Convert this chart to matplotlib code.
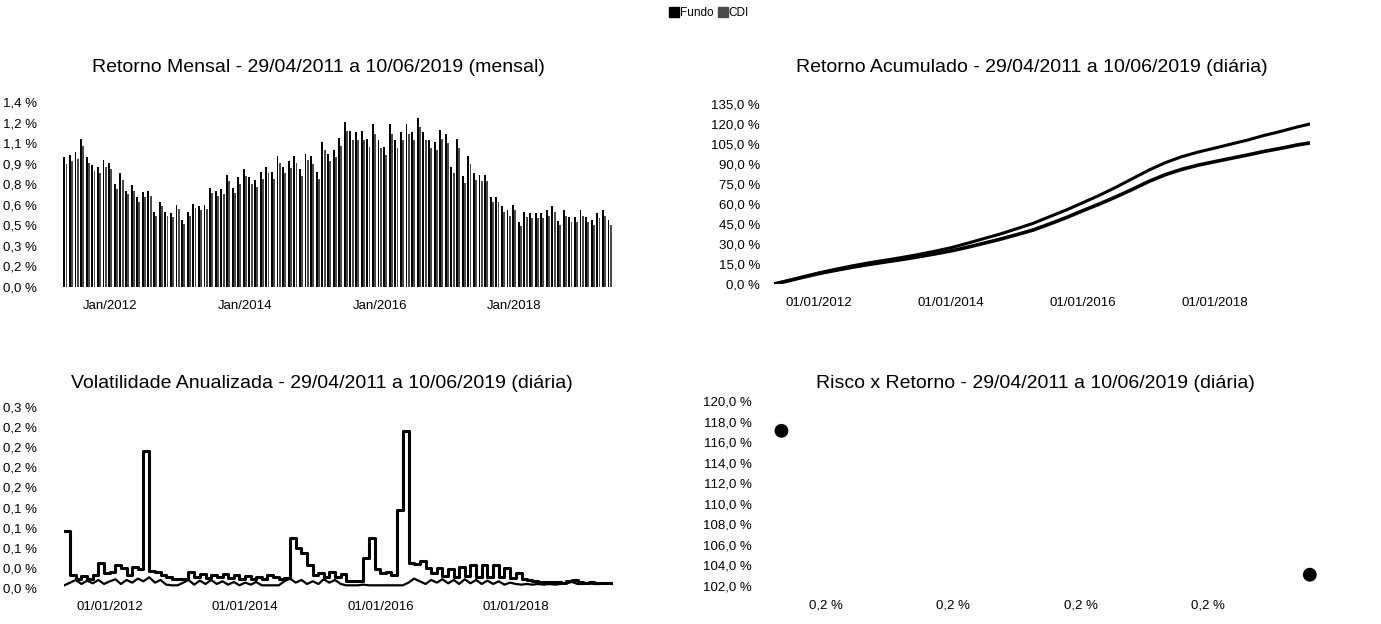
import matplotlib
matplotlib.use("Agg")
import matplotlib.pyplot as plt
import matplotlib.dates as mdates
from matplotlib.lines import Line2D
from matplotlib.ticker import FuncFormatter
import numpy as np
import pandas as pd

plt.rcParams["font.family"] = ["Liberation Sans", "DejaVu Sans"]

# ---------------------------------------------------------------------------
# Data
# ---------------------------------------------------------------------------

months = pd.date_range("2011-05-01", "2019-06-01", freq="MS")  # 98 months

ret_fundo = [
    0.98, 1.00, 1.02, 1.12, 0.98, 0.92, 0.91, 0.96,
    0.94, 0.78, 0.86, 0.73, 0.77, 0.68, 0.72, 0.73, 0.57, 0.64, 0.57, 0.56,
    0.62, 0.51, 0.57, 0.63, 0.61, 0.62, 0.75, 0.73, 0.74, 0.85, 0.75, 0.83,
    0.89, 0.83, 0.81, 0.87, 0.91, 0.87, 0.99, 0.91, 0.95, 0.99, 0.89, 1.01,
    0.99, 0.87, 1.10, 1.01, 1.04, 1.13, 1.25, 1.18, 1.17, 1.18, 1.12, 1.23,
    1.11, 1.06, 1.23, 1.11, 1.17, 1.23, 1.17, 1.28, 1.17, 1.11, 1.10, 1.19,
    1.16, 0.91, 1.12, 0.84, 0.99, 0.86, 0.85, 0.85, 0.68, 0.68, 0.61, 0.58,
    0.62, 0.49, 0.57, 0.56, 0.56, 0.56, 0.58, 0.61, 0.50, 0.58, 0.53, 0.53,
    0.58, 0.53, 0.51, 0.56, 0.58, 0.51,
]
ret_cdi = [
    0.93, 0.95, 0.97, 1.07, 0.94, 0.88, 0.86, 0.91,
    0.89, 0.74, 0.81, 0.70, 0.73, 0.64, 0.68, 0.69, 0.54, 0.61, 0.54, 0.53,
    0.59, 0.48, 0.54, 0.60, 0.58, 0.59, 0.71, 0.69, 0.70, 0.80, 0.71, 0.78,
    0.84, 0.78, 0.76, 0.82, 0.86, 0.82, 0.94, 0.86, 0.90, 0.94, 0.84, 0.96,
    0.93, 0.82, 1.04, 0.95, 0.98, 1.07, 1.18, 1.11, 1.11, 1.11, 1.06, 1.16,
    1.05, 1.00, 1.16, 1.05, 1.11, 1.16, 1.11, 1.21, 1.11, 1.05, 1.04, 1.12,
    1.09, 0.86, 1.05, 0.79, 0.93, 0.81, 0.80, 0.80, 0.64, 0.64, 0.57, 0.54,
    0.58, 0.46, 0.53, 0.52, 0.52, 0.52, 0.54, 0.57, 0.47, 0.54, 0.49, 0.49,
    0.54, 0.49, 0.47, 0.52, 0.54, 0.47,
]
month_tick_labels = ["Jan/2012", "Jan/2014", "Jan/2016", "Jan/2018"]

acc_dates = pd.to_datetime([
    "2011-04-29", "2011-07-01", "2011-10-01",
    "2012-01-01", "2012-04-01", "2012-07-01", "2012-10-01",
    "2013-01-01", "2013-04-01", "2013-07-01", "2013-10-01",
    "2014-01-01", "2014-04-01", "2014-07-01", "2014-10-01",
    "2015-01-01", "2015-04-01", "2015-07-01", "2015-10-01",
    "2016-01-01", "2016-04-01", "2016-07-01", "2016-10-01",
    "2017-01-01", "2017-04-01", "2017-07-01", "2017-10-01",
    "2018-01-01", "2018-04-01", "2018-07-01", "2018-10-01",
    "2019-01-01", "2019-04-01", "2019-06-10",
])
acc_fundo = [
    0.0, 2.0, 5.2,
    8.3, 11.0, 13.5, 15.8,
    17.8, 19.8, 22.0, 24.5,
    27.2, 30.5, 34.0, 37.5,
    41.5, 45.5, 50.5, 55.5,
    61.0, 66.5, 72.5, 79.0,
    85.5, 91.0, 95.5, 99.0,
    102.0, 105.0, 108.0, 111.5,
    114.5, 117.8, 120.0,
]
acc_cdi = [
    0.0, 1.9, 4.9,
    7.8, 10.2, 12.5, 14.6,
    16.5, 18.3, 20.3, 22.5,
    24.8, 27.5, 30.5, 33.6,
    37.0, 40.5, 45.0, 49.8,
    55.0, 60.0, 65.3, 71.0,
    77.0, 82.0, 86.0, 89.2,
    91.8, 94.3, 96.8, 99.5,
    101.8, 104.3, 105.8,
]

vol_fundo = [
    0.085, 0.020, 0.014, 0.018, 0.014, 0.020, 0.037, 0.022,
    0.024, 0.034, 0.030, 0.019, 0.031, 0.028, 0.204, 0.026, 0.024, 0.019, 0.017, 0.014,
    0.014, 0.013, 0.024, 0.016, 0.021, 0.015, 0.020, 0.016, 0.021, 0.015, 0.019, 0.014,
    0.018, 0.014, 0.016, 0.013, 0.019, 0.016, 0.014, 0.015, 0.074, 0.060, 0.052, 0.035,
    0.019, 0.022, 0.016, 0.024, 0.017, 0.021, 0.011, 0.011, 0.011, 0.045, 0.074, 0.028,
    0.022, 0.024, 0.020, 0.116, 0.234, 0.038, 0.036, 0.040, 0.030, 0.022, 0.030, 0.018,
    0.028, 0.016, 0.032, 0.018, 0.034, 0.016, 0.035, 0.017, 0.034, 0.016, 0.030, 0.015,
    0.022, 0.013, 0.012, 0.010, 0.009, 0.009, 0.009, 0.009, 0.008, 0.010, 0.012, 0.009,
    0.008, 0.009, 0.008, 0.008, 0.008, 0.008,
]
vol_cdi = [
    0.004, 0.008, 0.012, 0.006, 0.011, 0.007, 0.012, 0.006,
    0.010, 0.013, 0.006, 0.012, 0.008, 0.014, 0.010, 0.016, 0.008, 0.012, 0.005, 0.004,
    0.004, 0.008, 0.012, 0.005, 0.011, 0.006, 0.012, 0.006, 0.010, 0.005, 0.009, 0.004,
    0.008, 0.005, 0.009, 0.004, 0.004, 0.004, 0.004, 0.010, 0.014, 0.008, 0.012, 0.006,
    0.010, 0.006, 0.013, 0.008, 0.012, 0.006, 0.004, 0.004, 0.004, 0.005, 0.004, 0.004,
    0.004, 0.004, 0.004, 0.004, 0.004, 0.008, 0.014, 0.010, 0.006, 0.012, 0.008, 0.013,
    0.007, 0.012, 0.006, 0.013, 0.007, 0.012, 0.006, 0.011, 0.006, 0.010, 0.005, 0.008,
    0.006, 0.005, 0.006, 0.005, 0.006, 0.005, 0.006, 0.005, 0.006, 0.007, 0.009, 0.006,
    0.006, 0.007, 0.006, 0.006, 0.007, 0.006,
]

risk = [0.1953, 0.2036]      # Fundo, CDI (vol. anualizada, %)
retorno = [117.1, 103.1]     # Fundo, CDI (retorno acumulado, %)

date_ticks = pd.to_datetime(["2012-01-01", "2014-01-01", "2016-01-01", "2018-01-01"])

COLOR_FUNDO = "black"
COLOR_CDI = "#4a4a4a"
W, H = 1381, 624


def pct(fmt):
    return FuncFormatter(lambda v, _: (fmt.format(v + 1e-9)).replace(".", ",") + " %")


def px_axes(fig, x0, x1, y_top, y_bot):
    return fig.add_axes([x0 / W, 1 - y_bot / H, (x1 - x0) / W, (y_bot - y_top) / H])


def style(ax, ypad_px):
    for s in ax.spines.values():
        s.set_visible(False)
    ax.tick_params(axis="both", length=0, labelsize=9.5, colors="black")
    ax.tick_params(axis="y", pad=ypad_px * 0.72)
    ax.tick_params(axis="x", pad=9.5)


fig = plt.figure(figsize=(W / 100, H / 100), dpi=100)

title_kw = dict(ha="center", va="center", fontsize=14)
fig.text(318 / W, 1 - 68 / H, "Retorno Mensal - 29/04/2011 a 10/06/2019 (mensal)", **title_kw)
fig.text(1032 / W, 1 - 68 / H, "Retorno Acumulado - 29/04/2011 a 10/06/2019 (diária)", **title_kw)
fig.text(322 / W, 1 - 384 / H, "Volatilidade Anualizada - 29/04/2011 a 10/06/2019 (diária)", **title_kw)
fig.text(1035 / W, 1 - 384 / H, "Risco x Retorno - 29/04/2011 a 10/06/2019 (diária)", **title_kw)

# --- Retorno mensal (barras) ---
ax1 = px_axes(fig, 62, 613, 102, 287)
idx = np.arange(len(months))
ax1.bar(idx - 0.2, ret_fundo, width=0.34, color=COLOR_FUNDO)
ax1.bar(idx + 0.2, ret_cdi, width=0.34, color=COLOR_CDI)
ax1.set_xlim(-0.6, len(months) - 0.4)
ax1.set_ylim(0, 1.4)
ax1.set_yticks(np.linspace(0, 1.4, 10))
ax1.yaxis.set_major_formatter(pct("{:.1f}"))
jan_idx = [list(months).index(pd.Timestamp(f"{y}-01-01")) for y in (2012, 2014, 2016, 2018)]
ax1.set_xticks(jan_idx)
ax1.set_xticklabels(month_tick_labels)
style(ax1, 25)

# --- Retorno acumulado ---
ax2 = px_axes(fig, 774, 1310, 104, 284)
ax2.plot(acc_dates, acc_fundo, color=COLOR_FUNDO, lw=2.2)
ax2.plot(acc_dates, acc_cdi, color=COLOR_FUNDO, lw=2.6)
ax2.set_xlim(acc_dates[0], acc_dates[-1])
ax2.set_ylim(0, 135)
ax2.set_yticks(np.arange(0, 136, 15))
ax2.yaxis.set_major_formatter(pct("{:.1f}"))
ax2.set_xticks(date_ticks)
ax2.xaxis.set_major_formatter(mdates.DateFormatter("%d/%m/%Y"))
style(ax2, 14)

# --- Volatilidade ---
ax3 = px_axes(fig, 64, 613, 407, 588)
ax3.plot(months, vol_fundo, color=COLOR_FUNDO, lw=2.2, drawstyle="steps-post")
ax3.plot(months, vol_cdi, color=COLOR_FUNDO, lw=1.6)
ax3.set_xlim(pd.Timestamp("2011-04-29"), pd.Timestamp("2019-06-10"))
ax3.set_ylim(0, 0.27)
ax3.set_yticks(np.linspace(0, 0.27, 10))
ax3.yaxis.set_major_formatter(pct("{:.1f}"))
ax3.set_xticks(date_ticks)
ax3.xaxis.set_major_formatter(mdates.DateFormatter("%d/%m/%Y"))
style(ax3, 27)

# --- Risco x Retorno ---
ax4 = px_axes(fig, 770, 1320, 401, 586)
ax4.scatter(risk, retorno, s=80, color=[COLOR_FUNDO, COLOR_FUNDO], zorder=3)
ax4.set_xlim(0.19512, 0.20376)
ax4.set_ylim(102, 120)
ax4.set_yticks(np.arange(102, 121, 2))
ax4.yaxis.set_major_formatter(pct("{:.1f}"))
ax4.set_xticks([0.196, 0.198, 0.200, 0.202])
ax4.xaxis.set_major_formatter(pct("{:.1f}"))
style(ax4, 18)

# --- Legenda ---
handles = [
    Line2D([], [], marker="s", linestyle="None", color=COLOR_FUNDO, markersize=6.5, label="Fundo"),
    Line2D([], [], marker="s", linestyle="None", color=COLOR_CDI, markersize=6.5, label="CDI"),
]
fig.legend(handles=handles, loc="center", bbox_to_anchor=(709 / W, 1 - 13 / H), ncol=2,
           frameon=False, fontsize=8.5, handletextpad=0.1, columnspacing=0.4,
           handlelength=0.8, borderpad=0)

fig.savefig("out.png", dpi=100)
